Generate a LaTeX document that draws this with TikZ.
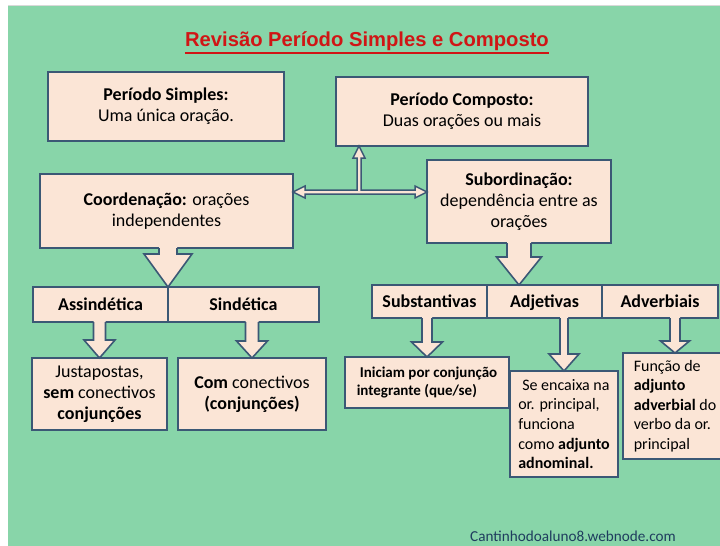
\documentclass[tikz,border=0pt]{standalone}
\usepackage{fontspec}
\setmainfont{Carlito}
\newfontfamily\titlefont{Liberation Sans}
\usetikzlibrary{calc}
\definecolor{bg}{HTML}{88D5A9}
\definecolor{peach}{HTML}{FBE5D6}
\definecolor{bord}{HTML}{3B5875}
\definecolor{ttl}{HTML}{D01515}
\definecolor{foot}{HTML}{1F3D5E}
\newcommand\blockarrow[5]{%
 \fill[peach] let \p1=(#1), \p2=(#2) in
 (\x2-#4,\y1+2pt) -- (\x2-#4,\y2+#3) -- (\x2-#5,\y2+#3) -- (\x2,\y2) -- (\x2+#5,\y2+#3) -- (\x2+#4,\y2+#3) -- (\x2+#4,\y1+2pt) -- cycle;
 \draw[arrline] let \p1=(#1), \p2=(#2) in
 (\x2-#4,\y1) -- (\x2-#4,\y2+#3) -- (\x2-#5,\y2+#3) -- (\x2,\y2) -- (\x2+#5,\y2+#3) -- (\x2+#4,\y2+#3) -- (\x2+#4,\y1);
}
\begin{document}
\begin{tikzpicture}[x=1pt,y=-1pt,
 box/.style={draw=bord, fill=peach, line width=1.8pt, inner sep=0pt, outer sep=0pt, align=center, font=\fontsize{18}{21}\selectfont},
 lbl/.style={box, font=\bfseries\fontsize{18}{21}\selectfont, text height=14pt, text depth=2pt},
 small/.style={box, align=left, font=\fontsize{16}{19.6}\selectfont},
 arrline/.style={draw=bord, line width=1.6pt}]
\useasboundingbox (0,0) rectangle (720,546);
\fill[white] (0,0) rectangle (720,546);
\fill[bg] (8,5) rectangle (720,546);
\draw[black!15, line width=1pt] (8,5) -- (720,5);

\node[inner sep=0pt, font=\titlefont\bfseries\fontsize{20.2}{24}\selectfont, text=ttl, anchor=base] (title) at (367,46.5) {Revisão Período Simples e Composto};
\draw[ttl, line width=1.5pt] ([yshift=-6.5pt]title.base west) -- ([yshift=-6.5pt]title.base east);

\node[box, minimum width=236pt, minimum height=69pt] (ps) at (166,106.5) {\textbf{Período Simples:}\\Uma única oração.};
\node[box, minimum width=252pt, minimum height=69pt] (pc) at (462,111.5) {\textbf{Período Composto:}\\Duas orações ou mais};
\node[box, minimum width=253pt, minimum height=74pt] (coord) at (166.5,211) {\textbf{Coordenação:} orações\\independentes};
\node[box, minimum width=184pt, minimum height=83pt] (sub) at (519,201.5) {\textbf{Subordinação:}\\dependência entre as\\orações};

\node[lbl, minimum width=135pt, minimum height=35pt] (assind) at (100.5,304.5) {Assindética};
\node[lbl, minimum width=151pt, minimum height=35pt] (sind) at (243.5,304.5) {Sindética};
\node[lbl, minimum width=115pt, minimum height=33pt] (subst) at (429.5,301.5) {Substantivas};
\node[lbl, minimum width=115pt, minimum height=33pt] (adj) at (544.5,301.5) {Adjetivas};
\node[lbl, minimum width=116pt, minimum height=33pt] (adv) at (660,301.5) {Adverbiais};

\node[box, minimum width=135pt, minimum height=72pt] (just) at (99.5,394) {Justapostas,\\\textbf{sem} conectivos\\\textbf{conjunções}};
\node[box, minimum width=148pt, minimum height=72pt] (com) at (252,394) {\textbf{Com} conectivos\\\textbf{(conjunções)}};
\node[box, align=left, font=\bfseries\fontsize{15}{18}\selectfont, minimum width=164pt, minimum height=51pt] (ini) at (427,382.5) {\hspace{3pt}Iniciam por conjunção\\integrante (que/se)};
\node[small, minimum width=108pt, minimum height=106pt] (se) at (564,424) {\hspace{4pt}Se encaixa na\\or. principal,\\funciona\\como \textbf{adjunto}\\\textbf{adnominal.}};
\node[small, minimum width=104pt, minimum height=106pt] (func) at (675,406) {Função de\\\textbf{adjunto}\\\textbf{adverbial} do\\verbo da or.\\principal};

\node[inner sep=0pt, anchor=base west, text=foot, font=\fontsize{15.2}{18}\selectfont] (foot) at (470,541) {Cantinhodoaluno8.webnode.com};

\coordinate (j) at (359,192);
\filldraw[fill=peach, draw=bord, line width=1.5pt] let \p1=(coord.east |- j), \p2=(sub.west |- j), \p3=(j |- pc.south) in
(\x1,\y1) -- (\x1+12pt,\y1+6pt) -- (\x1+12pt,\y1+2pt) -- (\x3-2pt,\y1+2pt) -- (\x3-2pt,\y3-12pt) -- (\x3-6pt,\y3-12pt) -- (\x3,\y3) -- (\x3+6pt,\y3-12pt) -- (\x3+2pt,\y3-12pt) -- (\x3+2pt,\y1+2pt) -- (\x2-12pt,\y1+2pt) -- (\x2-12pt,\y1+6pt) -- (\x2,\y2) -- (\x2-12pt,\y1-6pt) -- (\x2-12pt,\y1-2pt) -- (\x1+12pt,\y1-2pt) -- (\x1+12pt,\y1-6pt) -- cycle;

\blockarrow{coord.south}{assind.north east}{33pt}{9pt}{24pt}
\blockarrow{sub.south}{sub.south |- adj.north}{28pt}{12pt}{22.5pt}
\blockarrow{assind.south}{just.north}{18pt}{6pt}{15.5pt}
\blockarrow{sind.south}{com.north}{17pt}{6.5pt}{15.5pt}
\blockarrow{subst.south}{ini.north}{15pt}{5pt}{15.5pt}
\blockarrow{adj.south}{se.north}{17pt}{4pt}{15pt}
\blockarrow{adv.south}{func.north}{12pt}{5pt}{14.5pt}
\end{tikzpicture}
\end{document}
